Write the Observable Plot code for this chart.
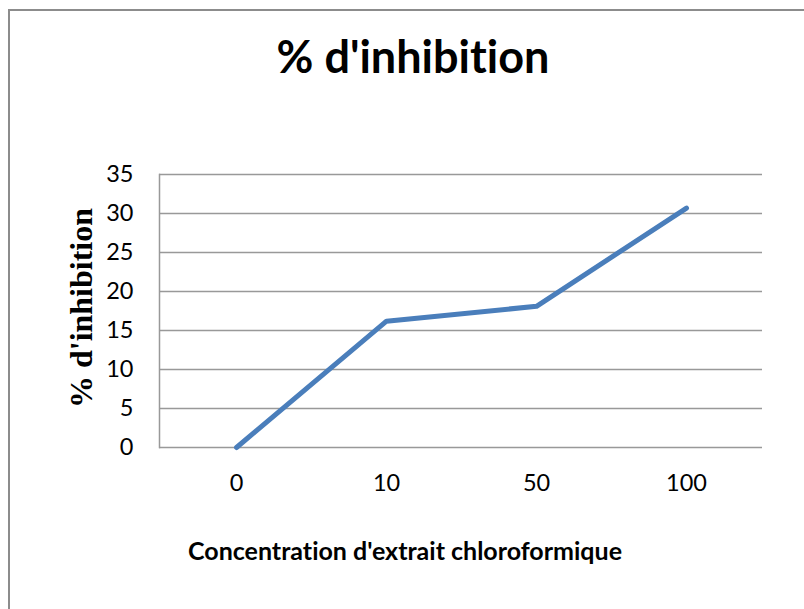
<!DOCTYPE html>
<html>
<head>
<meta charset="utf-8">
<script src="https://cdn.jsdelivr.net/npm/d3@7"></script>
<script src="https://cdn.jsdelivr.net/npm/@observablehq/plot@0.6"></script>
<style>
  html, body { margin: 0; padding: 0; background: #fff; }
  #wrap { position: relative; width: 804px; height: 609px; overflow: hidden; font-family: Lato, "Open Sans", sans-serif; font-variant-ligatures: none; }
  #frame { position: absolute; left: 8px; top: 9px; width: 820px; height: 640px; border-left: 2px solid #8c8c8c; border-top: 2px solid #8c8c8c; box-sizing: border-box; }
  #title { position: absolute; left: 0; width: 826px; top: 29px; text-align: center; font-family: Lato, sans-serif; font-weight: 700; font-size: 45px; line-height: 1.2; color: #000; font-variant-ligatures: none; }
  #xlabel { position: absolute; left: 0; width: 810px; top: 535px; text-align: center; font-family: Lato, sans-serif; font-weight: 700; font-size: 25px; line-height: 1.2; color: #000; font-variant-ligatures: none; }
  #ylabel { position: absolute; left: 81px; top: 308px; transform: translate(-50%, -50%) rotate(-90deg); white-space: nowrap; font-family: "Liberation Serif", "Times New Roman", serif; font-weight: 700; font-size: 32px; color: #000; }
  #chart { position: absolute; left: 0; top: 0; }
  #chart svg text { font-size: 23.5px; }
</style>
</head>
<body>
<div id="wrap">
  <div id="frame"></div>
  <div id="chart"></div>
  <div id="title">% d'inhibition</div>
  <div id="ylabel">% d'inhibition</div>
  <div id="xlabel">Concentration d'extrait chloroformique</div>
</div>
<script>
const categories = ["0", "10", "50", "100"];
const inhibition = [0, 16.2, 18.1, 30.7];
const yTicks = [0, 5, 10, 15, 20, 25, 30, 35];

const data = categories.map((c, i) => ({ c, v: inhibition[i] }));

const plot = Plot.plot({
  width: 804,
  height: 609,
  marginLeft: 159,
  marginRight: 42,
  marginTop: 174,
  marginBottom: 162,
  style: { fontFamily: "Lato, sans-serif", fontSize: "23.5px", color: "#000", background: "transparent", overflow: "visible" },
  x: { type: "point", domain: categories, padding: 0.5, label: null },
  y: { domain: [0, 35], label: null },
  marks: [
    Plot.ruleY(yTicks, { stroke: "#999", strokeWidth: 1.5 }),
    Plot.frame({ anchor: "left", stroke: "#999", strokeWidth: 1.5 }),
    Plot.axisY(yTicks, { tickSize: 0, tickPadding: 26, fontSize: 23.5, label: null }),
    Plot.axisX(categories, { tickSize: 0, tickPadding: 27, fontSize: 23.5, label: null }),
    Plot.line(data, { x: "c", y: "v", stroke: "#4a7ebb", strokeWidth: 5, strokeLinecap: "round", strokeLinejoin: "round" })
  ]
});
document.getElementById("chart").appendChild(plot);
</script>
</body>
</html>
